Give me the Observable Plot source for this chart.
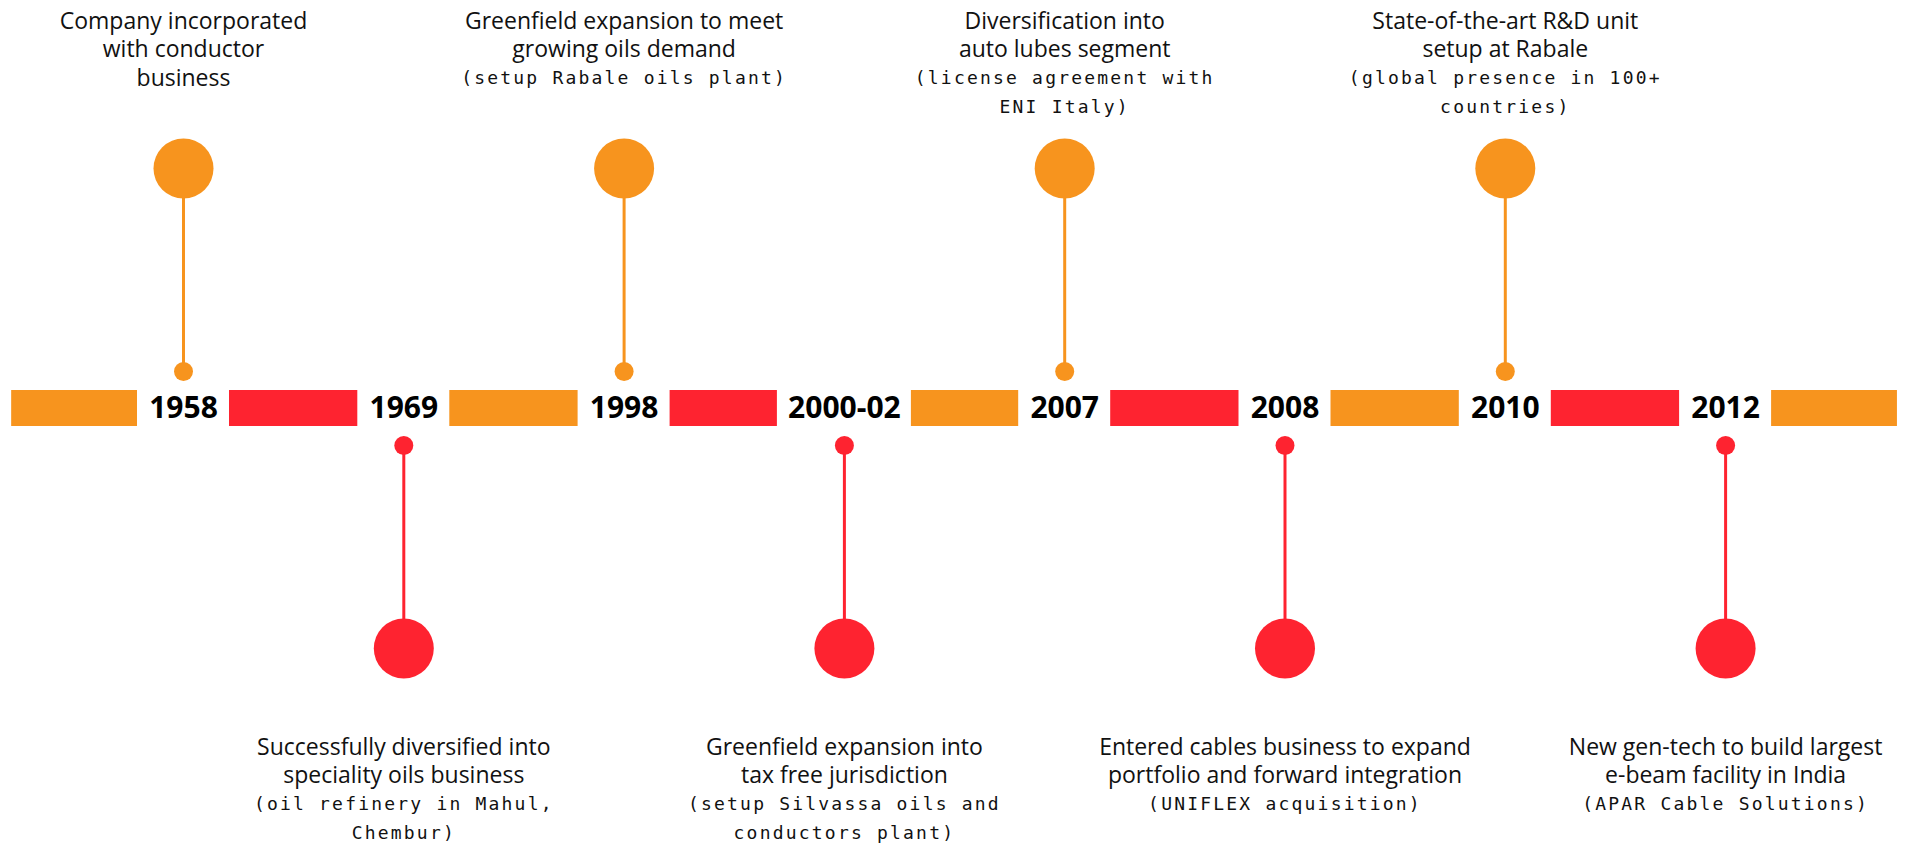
<!DOCTYPE html>
<html>
<head>
<meta charset="utf-8">
<script src="https://cdn.jsdelivr.net/npm/d3@7"></script>
<script src="https://cdn.jsdelivr.net/npm/@observablehq/plot@0.6"></script>
<style>
  html, body { margin: 0; padding: 0; background: #fff; overflow: hidden; }
  #chart svg { display: block; }
  g[font-family*="Mono"] text { letter-spacing: 2.2px; }
</style>
</head>
<body>
<div id="chart"></div>
<script>
// ---- data ----
const years = ["1958", "1969", "1998", "2000-02", "2007", "2008", "2010", "2012"];
const sides = ["top", "bottom", "top", "bottom", "top", "bottom", "top", "bottom"];
const headlines = [
  ["Company incorporated", "with conductor", "business"],
  ["Successfully diversified into", "speciality oils business"],
  ["Greenfield expansion to meet", "growing oils demand"],
  ["Greenfield expansion into", "tax free jurisdiction"],
  ["Diversification into", "auto lubes segment"],
  ["Entered cables business to expand", "portfolio and forward integration"],
  ["State-of-the-art R&D unit", "setup at Rabale"],
  ["New gen-tech to build largest", "e-beam facility in India"]
];
const details = [
  [],
  ["(oil refinery in Mahul,", "Chembur)"],
  ["(setup Rabale oils plant)"],
  ["(setup Silvassa oils and", "conductors plant)"],
  ["(license agreement with", "ENI Italy)"],
  ["(UNIFLEX acquisition)"],
  ["(global presence in 100+", "countries)"],
  ["(APAR Cable Solutions)"]
];

// ---- layout / style ----
const W = 1907, H = 844;
const ORANGE = "#F7941E", RED = "#FE2330";
const X0_PX = 183, STEP_PX = 220.3;
const xDomain = [-X0_PX / STEP_PX, (W - X0_PX) / STEP_PX];
const BAR_HALF = 18, SMALL_OFF = 37, BIG_OFF = 240;
const TOP_FIRST = 387, BOTTOM_FIRST = -339, LINE_H = 28.6;
const END_OVERHANG = 0.78;
const gapUnits = i => (14 * years[i].length + 36) / STEP_PX;

const events = years.map((year, i) => ({
  i, year,
  dir: sides[i] === "top" ? 1 : -1,
  color: sides[i] === "top" ? ORANGE : RED
}));

const bars = d3.range(years.length + 1).map(k => ({
  x1: k === 0 ? -END_OVERHANG : (k - 1) + gapUnits(k - 1) / 2,
  x2: k === years.length ? years.length - 1 + END_OVERHANG : k - gapUnits(k) / 2,
  color: k % 2 === 0 ? ORANGE : RED
}));

const lines = events.flatMap(e => {
  const all = [...headlines[e.i].map(t => ({t, mono: false})), ...details[e.i].map(t => ({t, mono: true}))];
  return all.map((l, k) => ({
    i: e.i,
    text: l.t,
    mono: l.mono,
    y: e.dir > 0 ? TOP_FIRST - k * LINE_H : BOTTOM_FIRST - k * LINE_H
  }));
});

const chart = Plot.plot({
  width: W,
  height: H,
  margin: 0,
  x: {domain: xDomain, axis: null},
  y: {domain: [-(H - 408), 408], axis: null},
  color: {type: "identity"},
  style: {background: "#fff"},
  marks: [
    Plot.rect(bars, {x1: "x1", x2: "x2", y1: () => -BAR_HALF, y2: () => BAR_HALF, fill: "color"}),
    Plot.ruleX(events, {x: "i", y1: d => d.dir * SMALL_OFF, y2: d => d.dir * BIG_OFF, stroke: "color", strokeWidth: 3}),
    Plot.dot(events, {x: "i", y: d => d.dir * SMALL_OFF, r: 9.5, fill: "color", stroke: null}),
    Plot.dot(events, {x: "i", y: d => d.dir * BIG_OFF, r: 30, fill: "color", stroke: null}),
    Plot.text(events, {x: "i", y: () => 0, text: "year", fontSize: 30, fontWeight: 700, fontFamily: "'Open Sans', sans-serif", fill: "#000"}),
    Plot.text(lines.filter(d => !d.mono), {x: "i", y: "y", text: "text", fontSize: 23, fontFamily: "'Open Sans', sans-serif", fill: "#111"}),
    Plot.text(lines.filter(d => d.mono), {x: "i", y: "y", text: "text", fontSize: 18, fontFamily: "'DejaVu Sans Mono', monospace", fill: "#111"})
  ]
});
document.getElementById("chart").appendChild(chart);
</script>
</body>
</html>
